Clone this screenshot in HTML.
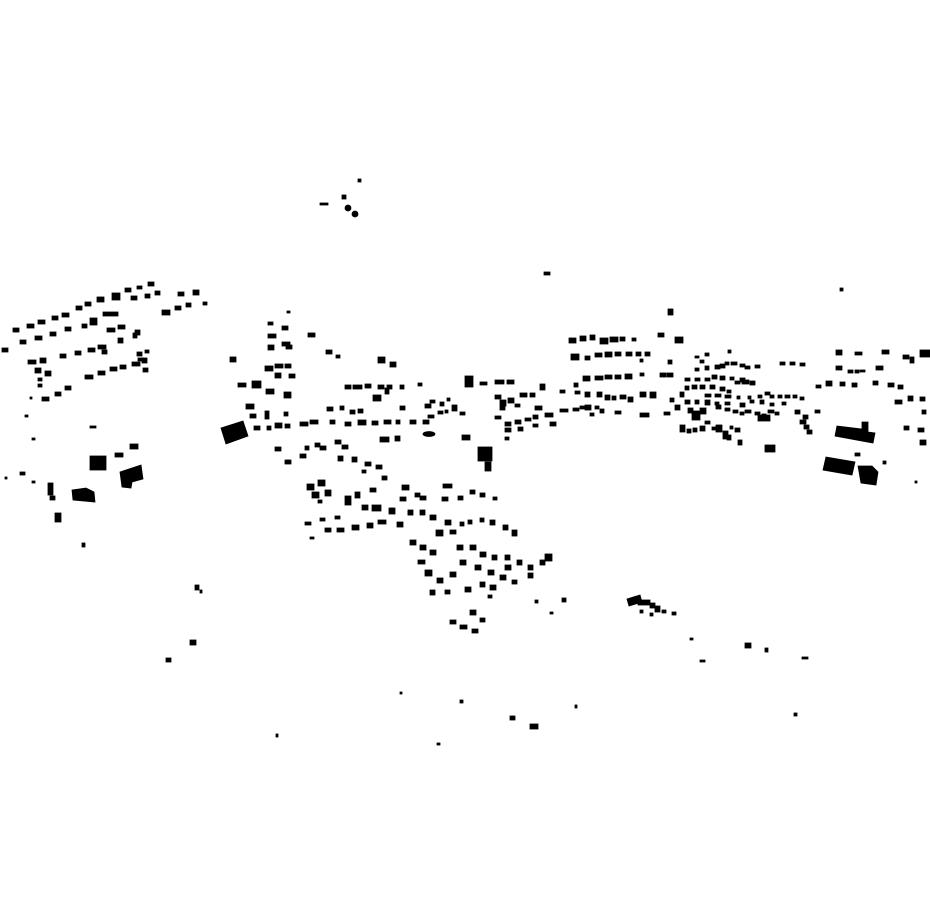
<!DOCTYPE html>
<html><head><meta charset="utf-8"><style>html,body{margin:0;padding:0;background:#fff}svg{display:block}</style></head><body>
<svg width="930" height="924" viewBox="0 0 930 924" xmlns="http://www.w3.org/2000/svg"><rect width="930" height="924" fill="#fff"/><g fill="#000" stroke="#000" stroke-width="0.8">
<rect x="13" y="328" width="6" height="4"/><rect x="27" y="324" width="7" height="4"/><rect x="38" y="320" width="7" height="4"/><rect x="52" y="316" width="6" height="4"/><rect x="62" y="313" width="7" height="4"/><rect x="76" y="306" width="6" height="4"/><rect x="85" y="302" width="6" height="4"/><rect x="97" y="297" width="7" height="5"/><rect x="112" y="293" width="8" height="7"/><rect x="125" y="288" width="6" height="4"/><rect x="137" y="286" width="5" height="3"/><rect x="148" y="282" width="6" height="4"/><rect x="131" y="296" width="6" height="4"/><rect x="145" y="294" width="5" height="4"/><rect x="155" y="291" width="5" height="4"/><rect x="162" y="310" width="8" height="5"/><rect x="175" y="306" width="6" height="4"/><rect x="186" y="303" width="5" height="4"/><rect x="178" y="292" width="6" height="4"/><rect x="193" y="290" width="6" height="5"/><rect x="203" y="302" width="4" height="3"/>
<rect x="2" y="348" width="6" height="4"/><rect x="20" y="340" width="6" height="4"/><rect x="35" y="336" width="7" height="4"/><rect x="50" y="332" width="6" height="4"/><rect x="65" y="327" width="6" height="4"/><rect x="82" y="324" width="5" height="4"/><rect x="90" y="318" width="7" height="7"/><rect x="103" y="312" width="15" height="4"/><rect x="107" y="328" width="8" height="4"/><rect x="118" y="325" width="7" height="4"/><rect x="135" y="330" width="5" height="5"/><rect x="118" y="338" width="5" height="5"/><rect x="133" y="333" width="4" height="5"/>
<rect x="28" y="360" width="8" height="4"/><rect x="40" y="358" width="6" height="5"/><rect x="60" y="354" width="6" height="4"/><rect x="75" y="351" width="6" height="4"/><rect x="88" y="348" width="7" height="4"/><rect x="98" y="345" width="8" height="4"/><rect x="102" y="350" width="5" height="4"/><rect x="137" y="352" width="5" height="4"/><rect x="145" y="350" width="4" height="3"/><rect x="138" y="358" width="5" height="3"/><rect x="35" y="368" width="6" height="5"/><rect x="45" y="371" width="6" height="5"/><rect x="38" y="378" width="4" height="3"/><rect x="38" y="384" width="4" height="3"/><rect x="85" y="375" width="8" height="4"/><rect x="98" y="371" width="7" height="4"/><rect x="110" y="367" width="7" height="4"/><rect x="120" y="365" width="6" height="4"/><rect x="132" y="362" width="8" height="4"/><rect x="142" y="358" width="5" height="5"/><rect x="143" y="368" width="5" height="4"/><rect x="42" y="397" width="7" height="4"/><rect x="55" y="392" width="6" height="4"/><rect x="65" y="386" width="6" height="4"/><rect x="30" y="397" width="2" height="2"/><rect x="25" y="415" width="3" height="2"/><rect x="32" y="438" width="3" height="2"/><rect x="90" y="426" width="6" height="2"/>
<rect x="90" y="456" width="16" height="14"/><path d="M120 472 L141 465 L143 479 L132 482 L131 488 L122 487 Z"/><path d="M72 490 L86 488 L94 492 L95 502 L73 500 Z"/><rect x="48" y="483" width="5" height="12"/><rect x="50" y="496" width="5" height="4"/><rect x="55" y="513" width="6" height="9"/><rect x="115" y="453" width="8" height="4"/><rect x="130" y="444" width="8" height="5"/><rect x="20" y="472" width="5" height="3"/><rect x="5" y="477" width="2" height="2"/><rect x="32" y="481" width="3" height="2"/><rect x="82" y="543" width="3" height="4"/>
<path d="M221 428 L243 421 L248 436 L226 444 Z"/>
<rect x="268" y="322" width="5" height="3"/><rect x="282" y="326" width="6" height="4"/><rect x="268" y="334" width="8" height="4"/><rect x="282" y="342" width="8" height="4"/><rect x="268" y="345" width="6" height="5"/><rect x="286" y="345" width="6" height="4"/><rect x="265" y="366" width="8" height="5"/><rect x="275" y="364" width="8" height="4"/><rect x="285" y="364" width="6" height="4"/><rect x="275" y="373" width="6" height="5"/><rect x="289" y="374" width="6" height="4"/><rect x="230" y="357" width="6" height="5"/><rect x="238" y="383" width="8" height="4"/><rect x="252" y="381" width="9" height="7"/><rect x="246" y="404" width="8" height="5"/><rect x="250" y="414" width="6" height="4"/><rect x="265" y="411" width="4" height="8"/><rect x="254" y="426" width="6" height="4"/><rect x="267" y="426" width="4" height="4"/><rect x="275" y="423" width="7" height="5"/><rect x="285" y="424" width="5" height="4"/><rect x="300" y="422" width="8" height="4"/><rect x="310" y="420" width="8" height="4"/><rect x="284" y="412" width="4" height="4"/><rect x="266" y="389" width="8" height="5"/><rect x="284" y="392" width="7" height="6"/><rect x="308" y="333" width="7" height="4"/><rect x="326" y="350" width="6" height="4"/><rect x="336" y="355" width="4" height="3"/><rect x="378" y="357" width="7" height="6"/><rect x="390" y="362" width="6" height="5"/>
<rect x="345" y="385" width="6" height="4"/><rect x="353" y="385" width="9" height="4"/><rect x="365" y="384" width="6" height="4"/><rect x="378" y="385" width="6" height="4"/><rect x="387" y="385" width="5" height="4"/><rect x="400" y="385" width="4" height="4"/><rect x="418" y="383" width="4" height="3"/><rect x="373" y="395" width="8" height="6"/><rect x="385" y="388" width="4" height="6"/><rect x="400" y="406" width="5" height="4"/><rect x="425" y="404" width="6" height="4"/><rect x="440" y="402" width="4" height="4"/><rect x="465" y="376" width="8" height="11"/><rect x="480" y="382" width="7" height="3"/><rect x="495" y="380" width="9" height="4"/><rect x="507" y="380" width="7" height="4"/>
<rect x="327" y="407" width="6" height="4"/><rect x="340" y="406" width="4" height="4"/><rect x="350" y="410" width="5" height="4"/><rect x="358" y="409" width="5" height="4"/><rect x="330" y="420" width="5" height="4"/><rect x="345" y="422" width="6" height="4"/><rect x="358" y="420" width="8" height="5"/><rect x="372" y="421" width="6" height="4"/><rect x="384" y="420" width="7" height="4"/><rect x="396" y="420" width="4" height="4"/><rect x="410" y="420" width="6" height="4"/><rect x="423" y="420" width="6" height="4"/><rect x="380" y="437" width="9" height="5"/><rect x="395" y="436" width="5" height="5"/><ellipse cx="429" cy="434" rx="6" ry="2.5"/><rect x="462" y="435" width="8" height="5"/><rect x="438" y="411" width="5" height="3"/><rect x="445" y="410" width="3" height="3"/><rect x="430" y="400" width="5" height="3"/><rect x="452" y="405" width="5" height="6"/><rect x="460" y="412" width="5" height="3"/><rect x="428" y="415" width="6" height="3"/><rect x="447" y="398" width="3" height="3"/>
<rect x="495" y="395" width="6" height="4"/><rect x="500" y="400" width="6" height="6"/><rect x="508" y="398" width="6" height="5"/><rect x="520" y="393" width="7" height="4"/><rect x="530" y="393" width="5" height="4"/><rect x="540" y="384" width="5" height="6"/><rect x="500" y="406" width="5" height="4"/><rect x="515" y="404" width="5" height="3"/><rect x="535" y="406" width="7" height="4"/><rect x="495" y="416" width="6" height="3"/><rect x="505" y="422" width="6" height="4"/><rect x="515" y="420" width="6" height="4"/><rect x="525" y="418" width="6" height="3"/><rect x="533" y="415" width="5" height="4"/><rect x="545" y="413" width="8" height="4"/><rect x="505" y="428" width="6" height="4"/><rect x="518" y="427" width="5" height="4"/><rect x="533" y="424" width="5" height="3"/><rect x="550" y="422" width="6" height="4"/><rect x="505" y="437" width="4" height="3"/>
<rect x="478" y="447" width="14" height="14"/><rect x="485" y="462" width="6" height="9"/>
<rect x="275" y="447" width="6" height="4"/><rect x="285" y="460" width="6" height="4"/><rect x="300" y="454" width="6" height="4"/><rect x="315" y="443" width="5" height="4"/><rect x="305" y="446" width="4" height="4"/><rect x="320" y="446" width="6" height="4"/><rect x="335" y="440" width="6" height="4"/><rect x="342" y="445" width="6" height="4"/><rect x="338" y="456" width="5" height="5"/><rect x="352" y="457" width="5" height="5"/><rect x="365" y="462" width="6" height="4"/><rect x="376" y="465" width="6" height="4"/><rect x="382" y="476" width="5" height="4"/><rect x="362" y="470" width="4" height="3"/>
<rect x="307" y="484" width="7" height="6"/><rect x="318" y="480" width="7" height="6"/><rect x="312" y="492" width="7" height="6"/><rect x="325" y="490" width="6" height="6"/><rect x="318" y="500" width="4" height="3"/><rect x="345" y="496" width="6" height="9"/><rect x="355" y="492" width="5" height="6"/><rect x="370" y="488" width="6" height="4"/><rect x="372" y="505" width="9" height="6"/><rect x="362" y="505" width="6" height="5"/><rect x="402" y="485" width="7" height="5"/><rect x="415" y="493" width="5" height="4"/><rect x="443" y="484" width="9" height="4"/><rect x="408" y="511" width="4" height="4"/><rect x="305" y="522" width="6" height="3"/><rect x="320" y="518" width="5" height="3"/><rect x="335" y="516" width="5" height="3"/><rect x="325" y="528" width="6" height="4"/><rect x="337" y="528" width="7" height="4"/><rect x="352" y="525" width="7" height="5"/><rect x="367" y="523" width="6" height="5"/><rect x="310" y="537" width="4" height="2"/><rect x="378" y="520" width="8" height="4"/>
<rect x="400" y="497" width="6" height="4"/><rect x="420" y="496" width="6" height="4"/><rect x="442" y="497" width="6" height="4"/><rect x="458" y="496" width="5" height="4"/><rect x="470" y="490" width="5" height="4"/><rect x="480" y="493" width="5" height="4"/><rect x="493" y="497" width="4" height="3"/><rect x="389" y="508" width="6" height="6"/><rect x="397" y="522" width="6" height="5"/><rect x="408" y="510" width="5" height="5"/><rect x="420" y="510" width="5" height="5"/><rect x="430" y="515" width="6" height="5"/><rect x="445" y="520" width="6" height="5"/><rect x="460" y="522" width="4" height="4"/><rect x="468" y="520" width="4" height="4"/><rect x="480" y="518" width="4" height="4"/><rect x="490" y="520" width="5" height="5"/><rect x="503" y="525" width="5" height="5"/><rect x="512" y="530" width="5" height="6"/><rect x="410" y="540" width="6" height="5"/><rect x="420" y="545" width="6" height="5"/><rect x="430" y="550" width="6" height="5"/><rect x="436" y="530" width="7" height="6"/><rect x="450" y="530" width="6" height="4"/><rect x="457" y="545" width="6" height="5"/><rect x="470" y="545" width="6" height="5"/><rect x="480" y="552" width="6" height="5"/><rect x="492" y="555" width="5" height="5"/><rect x="505" y="555" width="5" height="5"/><rect x="517" y="560" width="5" height="5"/><rect x="528" y="565" width="5" height="5"/><rect x="540" y="560" width="5" height="5"/><rect x="545" y="554" width="7" height="7"/><rect x="425" y="570" width="7" height="6"/><rect x="437" y="578" width="6" height="5"/><rect x="450" y="572" width="6" height="5"/><rect x="460" y="560" width="6" height="5"/><rect x="475" y="565" width="6" height="5"/><rect x="488" y="570" width="6" height="5"/><rect x="500" y="575" width="6" height="5"/><rect x="512" y="580" width="5" height="4"/><rect x="528" y="573" width="5" height="5"/><rect x="445" y="590" width="5" height="4"/><rect x="465" y="587" width="6" height="5"/><rect x="480" y="582" width="5" height="5"/><rect x="490" y="585" width="6" height="5"/><rect x="505" y="565" width="6" height="5"/><rect x="488" y="595" width="4" height="3"/><rect x="470" y="610" width="6" height="5"/><rect x="480" y="618" width="5" height="4"/><rect x="450" y="620" width="6" height="4"/><rect x="460" y="625" width="7" height="4"/><rect x="472" y="629" width="6" height="4"/><rect x="535" y="600" width="3" height="3"/><rect x="550" y="612" width="3" height="2"/><rect x="562" y="598" width="4" height="4"/><rect x="418" y="560" width="7" height="4"/><rect x="430" y="590" width="5" height="5"/>
<rect x="569" y="338" width="7" height="5"/><rect x="580" y="336" width="6" height="5"/><rect x="590" y="335" width="5" height="5"/><rect x="600" y="338" width="8" height="6"/><rect x="610" y="337" width="8" height="5"/><rect x="620" y="337" width="5" height="4"/><rect x="632" y="338" width="4" height="3"/><rect x="658" y="333" width="6" height="4"/><rect x="675" y="337" width="8" height="6"/><rect x="668" y="309" width="5" height="6"/>
<rect x="571" y="354" width="8" height="6"/><rect x="585" y="356" width="5" height="4"/><rect x="595" y="353" width="7" height="4"/><rect x="605" y="352" width="7" height="5"/><rect x="615" y="352" width="6" height="4"/><rect x="626" y="352" width="6" height="4"/><rect x="636" y="352" width="5" height="4"/><rect x="645" y="352" width="5" height="4"/><rect x="640" y="359" width="3" height="3"/>
<rect x="583" y="376" width="7" height="5"/><rect x="595" y="376" width="8" height="4"/><rect x="605" y="375" width="7" height="4"/><rect x="615" y="375" width="6" height="4"/><rect x="625" y="374" width="7" height="5"/><rect x="640" y="373" width="4" height="3"/><rect x="660" y="373" width="6" height="4"/><rect x="667" y="373" width="6" height="4"/>
<rect x="574" y="383" width="4" height="4"/><rect x="560" y="390" width="5" height="3"/><rect x="575" y="391" width="5" height="3"/><rect x="585" y="392" width="5" height="5"/><rect x="597" y="392" width="5" height="5"/><rect x="605" y="395" width="5" height="5"/><rect x="612" y="396" width="4" height="4"/><rect x="620" y="395" width="6" height="4"/><rect x="628" y="397" width="5" height="5"/><rect x="640" y="392" width="6" height="5"/><rect x="650" y="392" width="6" height="6"/>
<rect x="560" y="409" width="8" height="3"/><rect x="573" y="408" width="6" height="3"/><rect x="580" y="406" width="5" height="3"/><rect x="585" y="405" width="6" height="5"/><rect x="595" y="406" width="4" height="3"/><rect x="600" y="409" width="4" height="4"/><rect x="615" y="411" width="6" height="3"/><rect x="590" y="413" width="4" height="3"/><rect x="640" y="413" width="9" height="4"/><rect x="664" y="412" width="6" height="3"/>
<rect x="668" y="360" width="4" height="4"/><rect x="695" y="356" width="4" height="2"/><rect x="700" y="360" width="4" height="3"/><rect x="705" y="353" width="4" height="3"/><rect x="728" y="350" width="3" height="3"/><rect x="720" y="364" width="5" height="4"/><rect x="695" y="368" width="4" height="3"/><rect x="705" y="366" width="4" height="4"/><rect x="715" y="365" width="5" height="4"/><rect x="725" y="362" width="4" height="3"/><rect x="731" y="362" width="6" height="3"/><rect x="740" y="364" width="5" height="3"/><rect x="745" y="366" width="5" height="3"/><rect x="755" y="365" width="5" height="3"/><rect x="685" y="378" width="5" height="3"/><rect x="695" y="378" width="5" height="3"/><rect x="705" y="378" width="5" height="3"/><rect x="712" y="375" width="5" height="4"/><rect x="720" y="376" width="5" height="4"/><rect x="730" y="377" width="4" height="3"/><rect x="740" y="378" width="5" height="4"/><rect x="685" y="386" width="4" height="4"/><rect x="692" y="385" width="5" height="4"/><rect x="700" y="385" width="5" height="4"/><rect x="710" y="385" width="5" height="4"/><rect x="720" y="387" width="5" height="4"/><rect x="727" y="390" width="4" height="3"/><rect x="735" y="381" width="5" height="3"/><rect x="742" y="380" width="7" height="4"/><rect x="750" y="381" width="5" height="4"/><rect x="705" y="394" width="6" height="3"/><rect x="715" y="394" width="6" height="3"/><rect x="725" y="395" width="6" height="3"/><rect x="737" y="396" width="3" height="3"/><rect x="748" y="396" width="3" height="3"/><rect x="758" y="395" width="4" height="3"/><rect x="760" y="400" width="4" height="4"/><rect x="765" y="392" width="5" height="3"/><rect x="770" y="395" width="4" height="3"/><rect x="778" y="395" width="4" height="3"/><rect x="785" y="395" width="5" height="3"/><rect x="793" y="395" width="4" height="3"/><rect x="670" y="398" width="4" height="4"/><rect x="680" y="392" width="4" height="5"/><rect x="685" y="400" width="5" height="4"/><rect x="695" y="400" width="4" height="4"/><rect x="705" y="400" width="5" height="5"/><rect x="715" y="402" width="4" height="3"/><rect x="725" y="402" width="5" height="3"/><rect x="740" y="403" width="5" height="4"/><rect x="750" y="400" width="4" height="3"/><rect x="770" y="403" width="4" height="3"/><rect x="782" y="402" width="4" height="3"/><rect x="800" y="397" width="4" height="3"/><rect x="780" y="362" width="5" height="3"/><rect x="790" y="362" width="5" height="3"/><rect x="800" y="363" width="5" height="3"/><rect x="795" y="410" width="5" height="4"/><rect x="803" y="415" width="5" height="4"/><rect x="815" y="410" width="5" height="3"/>
<rect x="675" y="405" width="5" height="5"/><rect x="688" y="408" width="5" height="5"/><rect x="692" y="411" width="8" height="9"/><rect x="700" y="408" width="6" height="6"/><rect x="716" y="405" width="5" height="4"/><rect x="725" y="408" width="5" height="3"/><rect x="733" y="410" width="5" height="3"/><rect x="740" y="412" width="4" height="3"/><rect x="745" y="410" width="6" height="3"/><rect x="755" y="412" width="5" height="3"/><rect x="762" y="414" width="4" height="4"/><rect x="768" y="410" width="6" height="3"/><rect x="775" y="412" width="4" height="3"/><rect x="758" y="415" width="12" height="6"/><rect x="680" y="425" width="5" height="7"/><rect x="687" y="429" width="4" height="4"/><rect x="693" y="428" width="4" height="4"/><rect x="700" y="426" width="5" height="5"/><rect x="705" y="421" width="5" height="3"/><rect x="712" y="427" width="4" height="3"/><rect x="716" y="425" width="6" height="7"/><rect x="723" y="431" width="5" height="4"/><rect x="730" y="426" width="3" height="3"/><rect x="735" y="428" width="5" height="4"/><rect x="727" y="435" width="4" height="5"/><rect x="738" y="440" width="4" height="5"/><rect x="723" y="435" width="4" height="4"/><rect x="765" y="445" width="10" height="7"/><rect x="800" y="420" width="6" height="4"/><rect x="804" y="425" width="5" height="4"/><rect x="807" y="430" width="5" height="4"/>
<rect x="836" y="350" width="6" height="5"/><rect x="855" y="352" width="7" height="3"/><rect x="882" y="350" width="7" height="4"/><rect x="903" y="355" width="6" height="4"/><rect x="910" y="357" width="4" height="6"/><rect x="920" y="350" width="10" height="7"/><rect x="836" y="366" width="6" height="4"/><rect x="848" y="370" width="5" height="3"/><rect x="855" y="370" width="4" height="3"/><rect x="860" y="370" width="5" height="2"/><rect x="876" y="366" width="7" height="4"/><rect x="840" y="382" width="5" height="4"/><rect x="852" y="383" width="5" height="4"/><rect x="873" y="381" width="5" height="4"/><rect x="888" y="383" width="6" height="4"/><rect x="898" y="385" width="5" height="4"/><rect x="826" y="381" width="6" height="5"/><rect x="816" y="385" width="5" height="3"/><rect x="895" y="400" width="7" height="4"/><rect x="908" y="396" width="5" height="5"/><rect x="920" y="397" width="5" height="4"/><rect x="922" y="410" width="4" height="4"/><rect x="904" y="426" width="5" height="4"/><rect x="918" y="428" width="6" height="4"/><rect x="920" y="440" width="6" height="5"/>
<path d="M837 426 L862 429 L862 422 L868 422 L868 432 L875 433 L873 443 L835 436 Z"/><path d="M826 457 L855 462 L852 475 L823 470 Z"/><path d="M858 466 L872 466 L878 472 L876 485 L861 483 Z"/><rect x="855" y="453" width="5" height="3"/><rect x="883" y="461" width="3" height="3"/><rect x="915" y="481" width="2" height="2"/><rect x="840" y="288" width="3" height="3"/><rect x="544" y="272" width="6" height="3"/>
<rect x="320" y="203" width="8" height="2"/><rect x="342" y="195" width="4" height="4"/><circle cx="348" cy="208" r="3"/><circle cx="355" cy="214" r="3"/><rect x="358" y="179" width="3" height="3"/>
<rect x="195" y="585" width="4" height="5"/><rect x="200" y="590" width="2" height="3"/><rect x="190" y="640" width="6" height="5"/><rect x="166" y="658" width="5" height="4"/><path d="M627 599 L640 595 L642 602 L629 606 Z"/><rect x="638" y="600" width="12" height="5"/><rect x="650" y="603" width="5" height="5"/><rect x="655" y="606" width="5" height="6"/><rect x="662" y="610" width="4" height="3"/><rect x="672" y="612" width="4" height="3"/><rect x="640" y="610" width="3" height="3"/><rect x="650" y="613" width="3" height="3"/><rect x="745" y="643" width="6" height="5"/><rect x="765" y="648" width="3" height="4"/><rect x="802" y="657" width="6" height="2"/><rect x="690" y="638" width="3" height="2"/><rect x="700" y="660" width="5" height="2"/><rect x="400" y="692" width="2" height="2"/><rect x="460" y="700" width="3" height="3"/><rect x="510" y="716" width="5" height="4"/><rect x="530" y="724" width="8" height="5"/><rect x="575" y="705" width="2" height="3"/><rect x="794" y="713" width="3" height="3"/><rect x="276" y="734" width="2" height="3"/><rect x="437" y="743" width="3" height="2"/><rect x="287" y="311" width="3" height="2"/>
</g></svg>
</body></html>
